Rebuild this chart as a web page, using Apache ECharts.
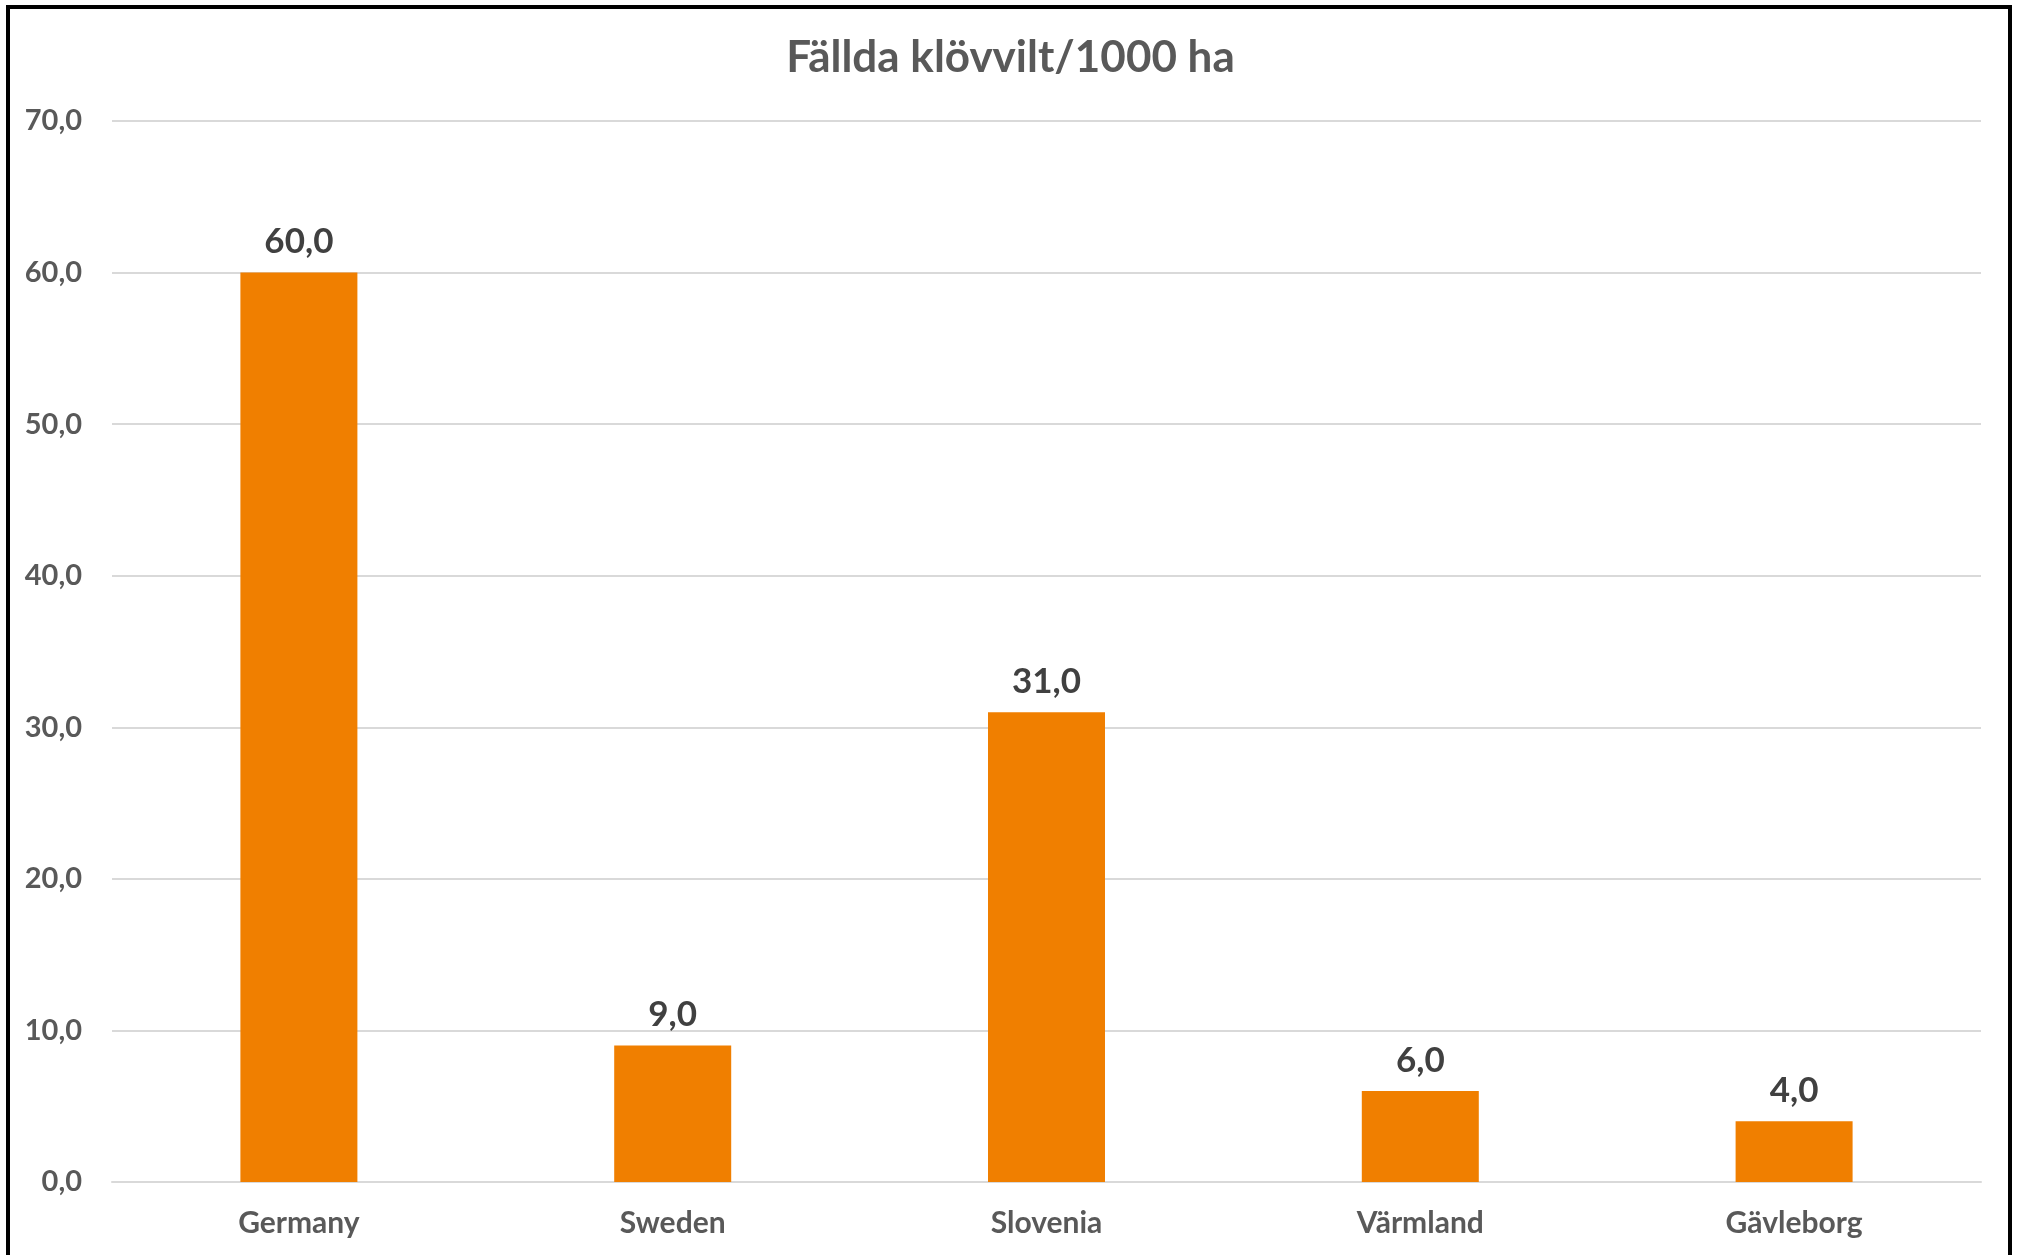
<!DOCTYPE html>
<html>
<head>
<meta charset="utf-8">
<script src="https://cdn.jsdelivr.net/npm/echarts@6/dist/echarts.min.js"></script>
<style>
html,body{margin:0;padding:0;background:#fff;}
#chart{width:2021px;height:1255px;}
</style>
</head>
<body>
<div id="chart"></div>
<script>
const titleText = 'Fällda klövvilt/1000 ha';
const categories = ['Germany', 'Sweden', 'Slovenia', 'Värmland', 'Gävleborg'];
const values = [60.0, 9.0, 31.0, 6.0, 4.0];
const yTicks = [0, 10, 20, 30, 40, 50, 60, 70];

const fmt = v => v.toFixed(1).replace('.', ',');
const FONT = 'Lato';

const chart = echarts.init(document.getElementById('chart'), null, {renderer: 'canvas'});
chart.setOption({
  backgroundColor: '#ffffff',
  animation: false,
  title: {
    text: titleText,
    left: 'center',
    top: 31,
    textStyle: {fontFamily: FONT, fontWeight: 'bold', fontSize: 44, color: '#595959'}
  },
  graphic: [{
    type: 'rect',
    shape: {x: 8, y: 7, width: 2002, height: 1300},
    style: {fill: 'none', stroke: '#000', lineWidth: 4},
    silent: true
  }],
  grid: {left: 112, right: 40, top: 121, bottom: 73, containLabel: false},
  xAxis: {
    type: 'category',
    data: categories,
    axisLine: {show: true, lineStyle: {color: '#d9d9d9', width: 2}},
    axisTick: {show: false},
    axisLabel: {fontFamily: FONT, fontWeight: 'bold', fontSize: 30, color: '#595959', margin: 26}
  },
  yAxis: {
    type: 'value',
    min: yTicks[0],
    max: yTicks[yTicks.length - 1],
    interval: yTicks[1] - yTicks[0],
    axisLine: {show: false},
    axisTick: {show: false},
    splitLine: {lineStyle: {color: '#d9d9d9', width: 2}},
    axisLabel: {fontFamily: FONT, fontWeight: 'bold', fontSize: 29, color: '#595959', margin: 30, formatter: v => fmt(v)}
  },
  series: [{
    type: 'bar',
    data: values,
    barWidth: '31.3%',
    itemStyle: {color: '#F07F00'},
    label: {
      show: true,
      position: 'top',
      distance: 13,
      fontFamily: FONT,
      fontWeight: 'bold',
      fontSize: 35,
      color: '#404040',
      formatter: p => fmt(p.value)
    }
  }]
});
</script>
</body>
</html>
